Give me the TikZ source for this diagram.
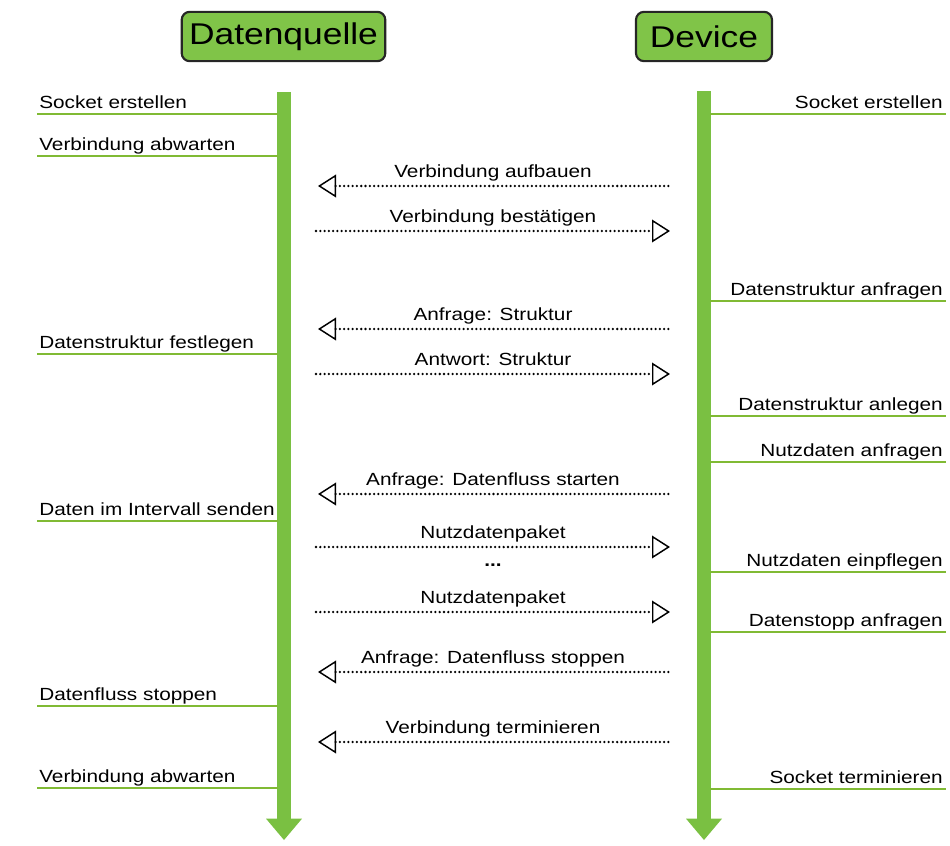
\documentclass[tikz,border=0pt]{standalone}
\usepackage{fontspec}
\setmainfont{Liberation Sans}[FakeStretch=1.18]
\usetikzlibrary{arrows.meta}
\definecolor{lifegreen}{RGB}{122,192,66}
\definecolor{headgreen}{RGB}{128,196,72}
\definecolor{tickgreen}{RGB}{128,186,52}
\tikzset{
  x=0.75pt, y=-0.75pt,
  header/.style={draw=black!85, line width=1.6pt, fill=headgreen, rounded corners=6pt,
    inner xsep=5.5pt, inner ysep=0pt, minimum height=37pt,
    font=\fontsize{22.5}{24}\selectfont},
  lifeline/.style={draw=lifegreen, line width=10pt,
    -{Triangle[length=16pt, width=27pt, fill=lifegreen, line width=0pt]}},
  tick/.style={draw=tickgreen, line width=1.5pt},
  evlabel/.style={inner sep=0pt, font=\fontsize{13.2}{15}\selectfont},
  msg/.style={line width=1.9pt, line cap=round, dash pattern=on 0pt off 3.2pt},
  tipL/.style={msg, {Triangle[open, length=13.5pt, width=17pt, line width=1.1pt, sep=1.5pt]}-},
  tipR/.style={msg, -{Triangle[open, length=13.5pt, width=17pt, line width=1.1pt, sep=1.5pt]}},
  msglabel/.style={inner sep=0pt, font=\fontsize{13.2}{15}\selectfont},
}
\begin{document}
\begin{tikzpicture}
\useasboundingbox (0,0) rectangle (950,846);

% participants
\node[header] (hq) at (283.5,36.5) {Datenquelle};
\node[header, minimum width=102pt] (hd) at (704,36.5) {Device};

% lifelines
\coordinate (qtop) at (284,92);
\coordinate (qbot) at (284,840);
\coordinate (dtop) at (704,91);
\coordinate (dbot) at (704,840);
\draw[lifeline] (qtop) -- (qbot);
\draw[lifeline] (dtop) -- (dbot);

% events on the Datenquelle side
\foreach \y/\t [count=\i] in {114/Socket erstellen, 156/Verbindung abwarten,
    354/Datenstruktur festlegen, 521/Daten im Intervall senden,
    706/Datenfluss stoppen, 788/Verbindung abwarten}{
  \coordinate (qa\i) at (37,\y);
  \coordinate (qb\i) at (278,\y);
  \draw[tick] (qa\i) -- (qb\i);
  \node[evlabel, anchor=base west] (ql\i) at (39,\y-6) {\t};
}

% events on the Device side
\foreach \y/\t [count=\i] in {114/Socket erstellen, 301/Datenstruktur anfragen,
    416/Datenstruktur anlegen, 462/Nutzdaten anfragen,
    572/Nutzdaten einpflegen, 632/Datenstopp anfragen, 789/Socket terminieren}{
  \coordinate (da\i) at (710,\y);
  \coordinate (db\i) at (946,\y);
  \draw[tick] (da\i) -- (db\i);
  \node[evlabel, anchor=base east] (dl\i) at (943,\y-6) {\t};
}

% messages: left = towards Datenquelle, right = towards Device
\foreach \y/\d/\t [count=\i] in {186/L/Verbindung aufbauen, 231/R/Verbindung bestätigen,
    329/L/Anfrage: Struktur, 374/R/Antwort: Struktur,
    494/L/Anfrage: Datenfluss starten, 547/R/Nutzdatenpaket,
    612/R/Nutzdatenpaket, 672/L/Anfrage: Datenfluss stoppen,
    742/L/Verbindung terminieren}{
  \coordinate (ml\i) at (316,\y);
  \coordinate (mr\i) at (672,\y);
  \draw[tip\d] (ml\i) -- (mr\i);
  \node[msglabel, anchor=base] (mt\i) at (493,\y-9) {\t};
}

% continuation marker between the data packets
\node[inner sep=0pt, font=\fontsize{13.2}{15}\selectfont\bfseries] (dots) at (493,565) {...};
\end{tikzpicture}
\end{document}
